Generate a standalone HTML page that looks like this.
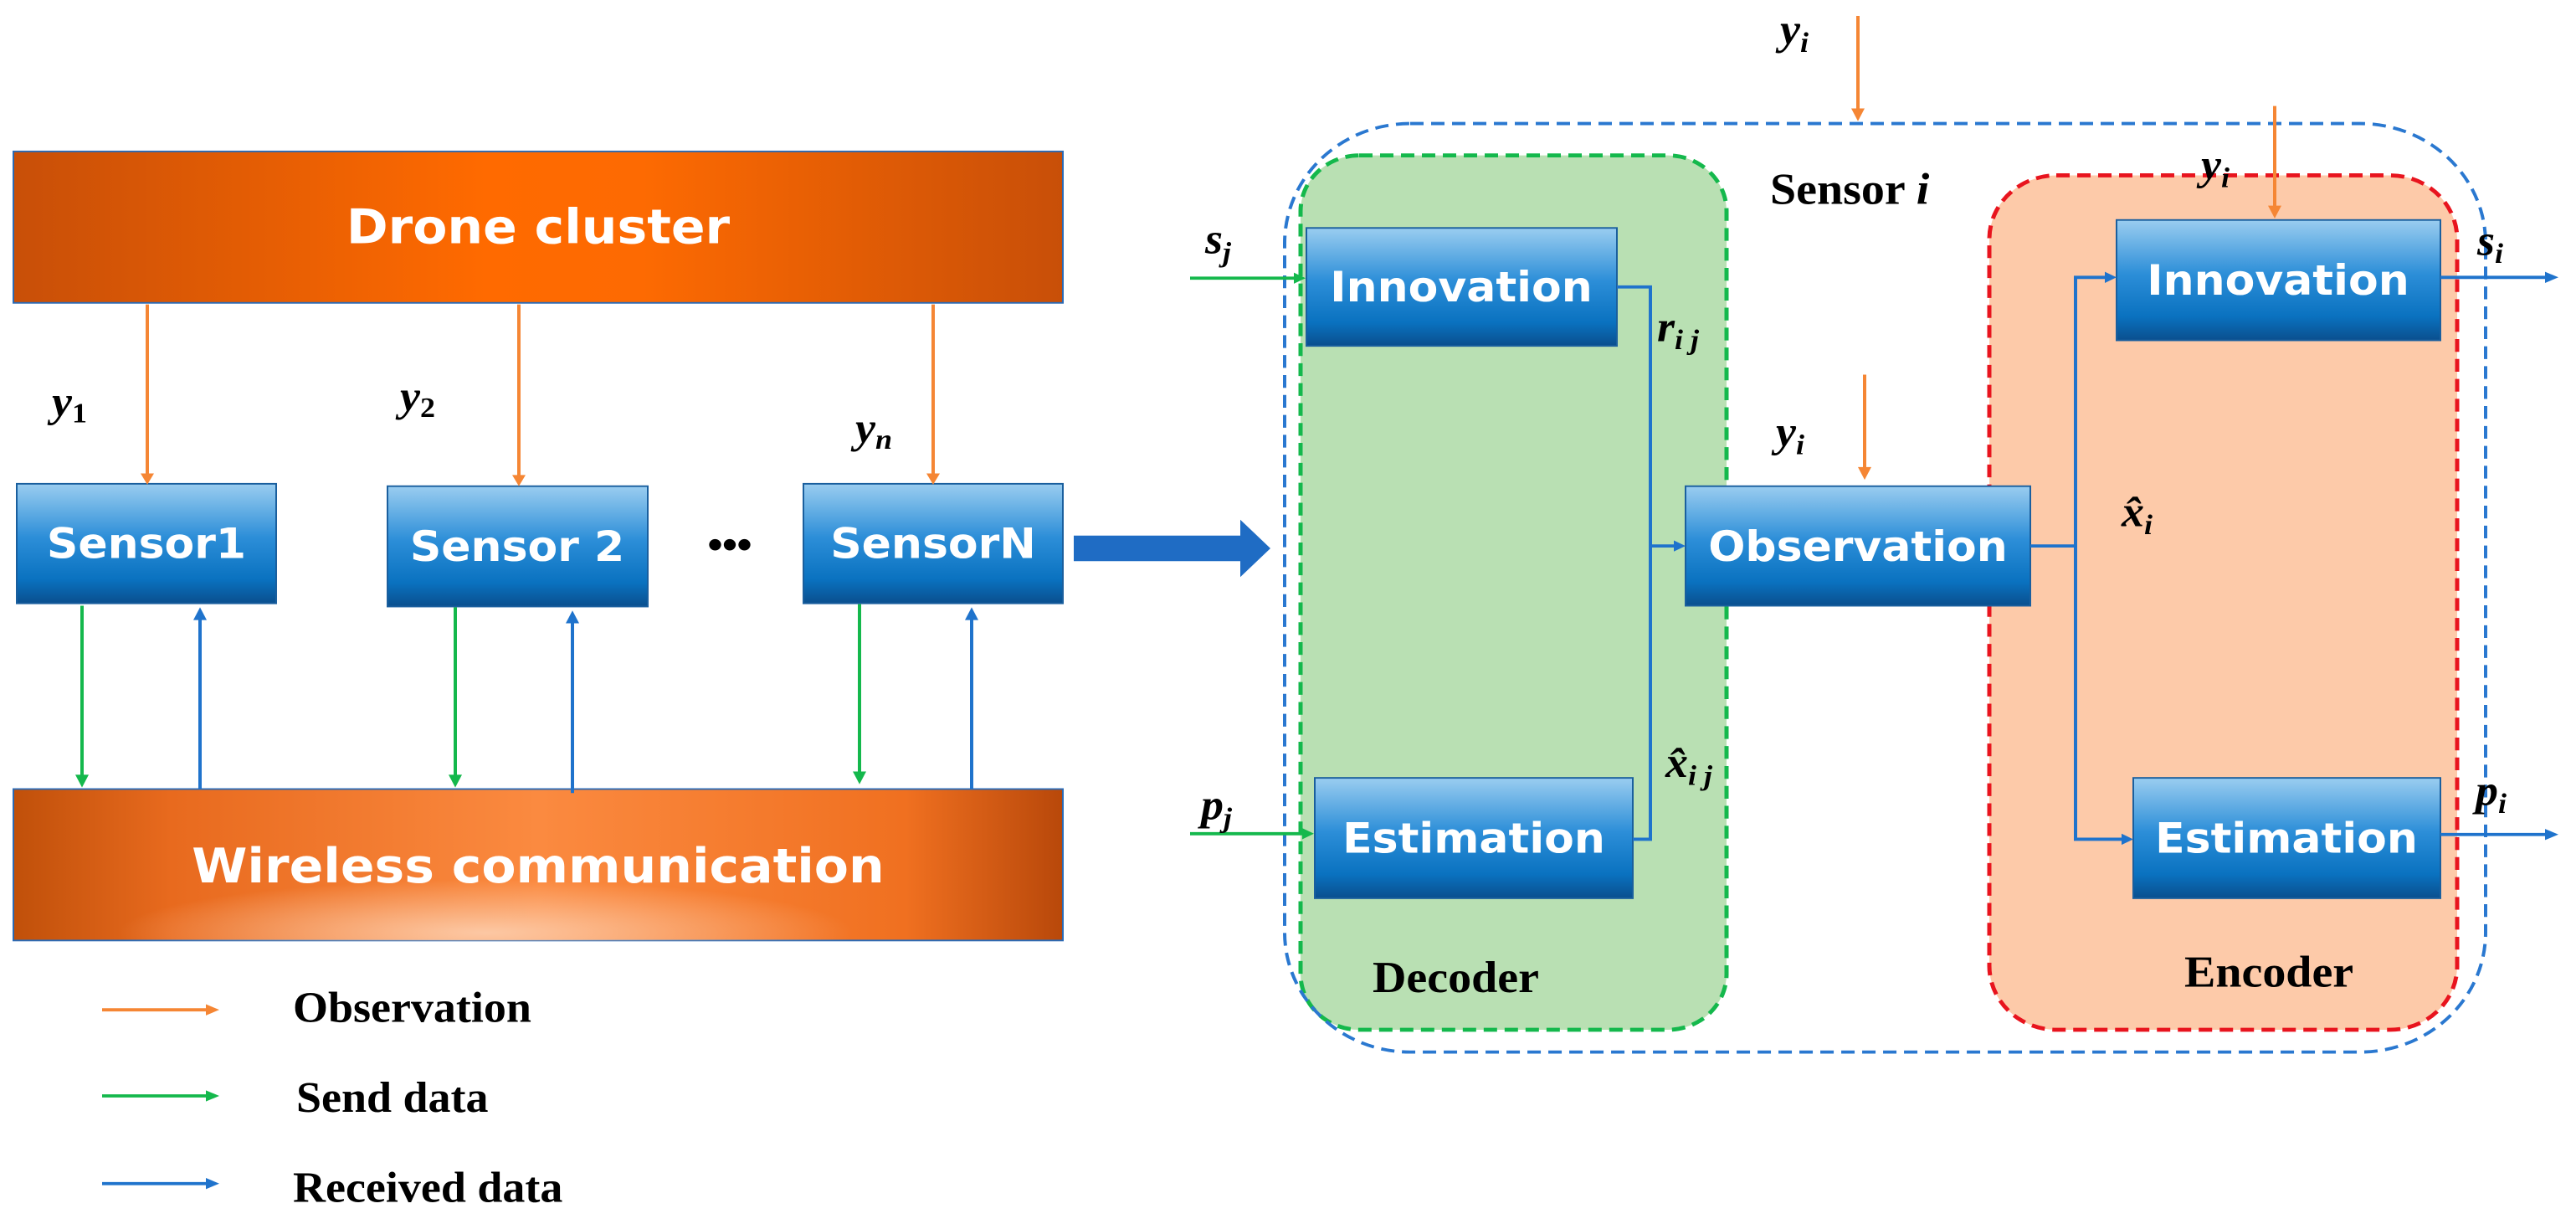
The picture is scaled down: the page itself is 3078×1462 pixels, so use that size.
<!DOCTYPE html>
<html><head><meta charset="utf-8"><style>html,body{margin:0;padding:0;background:#fff}svg{display:block}</style></head><body>
<svg width="3078" height="1462" viewBox="0 0 3078 1462" xmlns="http://www.w3.org/2000/svg">
<defs>
<linearGradient id="bx" x1="0" y1="0" x2="0" y2="1">
<stop offset="0" stop-color="#9acdf0"/><stop offset="0.45" stop-color="#2c8ed8"/><stop offset="0.8" stop-color="#0a72c0"/><stop offset="1" stop-color="#0a4f8e"/></linearGradient>
<linearGradient id="dr" x1="0" y1="0" x2="1" y2="0">
<stop offset="0" stop-color="#c84f08"/><stop offset="0.45" stop-color="#ff6a00"/><stop offset="0.6" stop-color="#fd6a02"/><stop offset="1" stop-color="#c84f08"/></linearGradient>
<linearGradient id="wlh" x1="0" y1="0" x2="1" y2="0">
<stop offset="0" stop-color="#c0500a"/><stop offset="0.15" stop-color="#e86a1e"/><stop offset="0.5" stop-color="#fb8a40"/><stop offset="0.85" stop-color="#f07020"/><stop offset="1" stop-color="#b8480a"/></linearGradient>
<radialGradient id="wl" cx="0.45" cy="0.95" r="0.35">
<stop offset="0" stop-color="#fcc8a4" stop-opacity="1"/><stop offset="1" stop-color="#fcc8a4" stop-opacity="0"/></radialGradient>
<style>
.bt{font-family:"DejaVu Sans","Liberation Sans",sans-serif;font-weight:bold;fill:#fff;font-size:52px;text-anchor:middle}
.sr{font-family:"Liberation Serif",serif;font-weight:bold;fill:#000}
.m{font-family:"Liberation Serif",serif;font-weight:bold;font-style:italic;fill:#000;font-size:54px}
.sub{font-family:"Liberation Serif",serif;font-style:italic;font-size:36px}
.o{stroke:#f58634;stroke-width:4;fill:none}
.g{stroke:#14b84c;stroke-width:4;fill:none}
.b{stroke:#1f73cc;stroke-width:4;fill:none}
</style>
</defs>
<g transform="scale(1,0.952)">
<rect x="16" y="190" width="1254" height="190" fill="url(#dr)" stroke="#2a6ab5" stroke-width="2"/>
<text x="643" y="305" class="bt" style="font-size:60px">Drone cluster</text>
<rect x="16" y="990" width="1254" height="190" fill="url(#wlh)" stroke="#2a6ab5" stroke-width="2"/>
<rect x="16" y="990" width="1254" height="190" fill="url(#wl)"/>
<text x="643" y="1107" class="bt" style="font-size:60px">Wireless communication</text>
<rect x="20" y="607" width="310" height="150" fill="url(#bx)" stroke="#1a5f9e" stroke-width="2"/>
<text x="175" y="700" class="bt">Sensor1</text>
<rect x="463" y="610" width="311" height="151" fill="url(#bx)" stroke="#1a5f9e" stroke-width="2"/>
<text x="618" y="704" class="bt">Sensor 2</text>
<rect x="960" y="607" width="310" height="150" fill="url(#bx)" stroke="#1a5f9e" stroke-width="2"/>
<text x="1115" y="700" class="bt">SensorN</text>
<text x="872" y="700" style="font-family:'Liberation Sans',sans-serif;font-size:50px;font-weight:bold;text-anchor:middle">•••</text>
<path class="o" d="M176 382V598"/><path d="M168 594L176 608L184 594z" fill="#f58634"/>
<path class="o" d="M620 382V600"/><path d="M612 596L620 610L628 596z" fill="#f58634"/>
<path class="o" d="M1115 382V598"/><path d="M1107 594L1115 608L1123 594z" fill="#f58634"/>
<text x="62" y="522" class="m">y<tspan class="sub" dy="8" style="font-style:normal">1</tspan></text>
<text x="478" y="515" class="m">y<tspan class="sub" dy="8" style="font-style:normal">2</tspan></text>
<text x="1022" y="555" class="m">y<tspan class="sub" dy="8">n</tspan></text>
<path class="g" d="M98 760V978"/><path d="M90 972L98 988L106 972z" fill="#14b84c"/>
<path class="g" d="M544 762V978"/><path d="M536 972L544 988L552 972z" fill="#14b84c"/>
<path class="g" d="M1027 758V974"/><path d="M1019 968L1027 984L1035 968z" fill="#14b84c"/>
<path class="b" d="M239 990V772"/><path d="M231 778L239 762L247 778z" fill="#1f73cc"/>
<path class="b" d="M684 995V776"/><path d="M676 782L684 766L692 782z" fill="#1f73cc"/>
<path class="b" d="M1161 990V772"/><path d="M1153 778L1161 762L1169 778z" fill="#1f73cc"/>
<path d="M1283 672H1482V652L1518 688L1482 724V704H1283z" fill="#1f6cc4"/>
<path class="o" d="M122 1267H250"/><path d="M246 1260L262 1267L246 1274z" fill="#f58634"/>
<path class="g" d="M122 1375H250"/><path d="M246 1368L262 1375L246 1382z" fill="#14b84c"/>
<path class="b" d="M122 1485H250"/><path d="M246 1478L262 1485L246 1492z" fill="#1f73cc"/>
<text x="350" y="1282" class="sr" style="font-size:54px">Observation</text>
<text x="354" y="1395" class="sr" style="font-size:54px">Send data</text>
<text x="350" y="1508" class="sr" style="font-size:54px">Received data</text>
<rect x="1554" y="195" width="509" height="1097" rx="70" fill="#b9e0b3" stroke="#14b84c" stroke-width="5" stroke-dasharray="16 9"/>
<rect x="2377" y="220" width="559" height="1072" rx="80" fill="#fdcaa9" stroke="#e8141e" stroke-width="5" stroke-dasharray="16 9"/>
<rect x="1535" y="155" width="1435" height="1165" rx="150" fill="none" stroke="#2a78d0" stroke-width="4" stroke-dasharray="16 9"/>
<path class="g" d="M1422 349H1550"/><path d="M1546 342L1560 349L1546 356z" fill="#14b84c"/>
<path class="g" d="M1422 1046H1560"/><path d="M1556 1039L1570 1046L1556 1053z" fill="#14b84c"/>
<text x="1440" y="318" class="m">s<tspan class="sub" dy="10">j</tspan></text>
<text x="1435" y="1028" class="m">p<tspan class="sub" dy="10">j</tspan></text>
<rect x="1561" y="286" width="371" height="148" fill="url(#bx)" stroke="#1a5f9e" stroke-width="2"/>
<text x="1746" y="378" class="bt">Innovation</text>
<rect x="1571" y="976" width="380" height="151" fill="url(#bx)" stroke="#1a5f9e" stroke-width="2"/>
<text x="1761" y="1070" class="bt">Estimation</text>
<rect x="2014" y="610" width="412" height="150" fill="url(#bx)" stroke="#1a5f9e" stroke-width="2"/>
<text x="2220" y="704" class="bt">Observation</text>
<rect x="2529" y="276" width="387" height="151" fill="url(#bx)" stroke="#1a5f9e" stroke-width="2"/>
<text x="2722" y="370" class="bt">Innovation</text>
<rect x="2549" y="976" width="367" height="151" fill="url(#bx)" stroke="#1a5f9e" stroke-width="2"/>
<text x="2732" y="1070" class="bt">Estimation</text>
<path class="b" d="M1932 360H1972V1053H1951"/>
<path class="b" d="M1972 685H2004"/><path d="M2000 678L2014 685L2000 692z" fill="#1f73cc"/>
<path class="b" d="M2426 685H2480V348H2519"/><path d="M2515 341L2529 348L2515 355z" fill="#1f73cc"/>
<path class="b" d="M2480 685V1053H2539"/><path d="M2535 1046L2549 1053L2535 1060z" fill="#1f73cc"/>
<path class="b" d="M2916 348H3045"/><path d="M3041 341L3057 348L3041 355z" fill="#1f73cc"/>
<path class="b" d="M2916 1047H3045"/><path d="M3041 1040L3057 1047L3041 1054z" fill="#1f73cc"/>
<path class="o" d="M2220 20V140"/><path d="M2212 136L2220 152L2228 136z" fill="#f58634"/>
<path class="o" d="M2718 133V262"/><path d="M2710 258L2718 274L2726 258z" fill="#f58634"/>
<path class="o" d="M2228 470V590"/><path d="M2220 586L2228 602L2236 586z" fill="#f58634"/>
<text x="2127" y="55" class="m">y<tspan class="sub" dy="10">i</tspan></text>
<text x="2630" y="225" class="m">y<tspan class="sub" dy="10">i</tspan></text>
<text x="2122" y="560" class="m">y<tspan class="sub" dy="10">i</tspan></text>
<text x="2115" y="256" class="sr" style="font-size:56px">Sensor <tspan font-style="italic">i</tspan></text>
<text x="1980" y="428" class="m">r<tspan class="sub" dy="10">i j</tspan></text>
<text x="1990" y="975" class="m">x̂<tspan class="sub" dy="10">i j</tspan></text>
<text x="2535" y="660" class="m">x̂<tspan class="sub" dy="10">i</tspan></text>
<text x="2960" y="320" class="m">s<tspan class="sub" dy="10">i</tspan></text>
<text x="2958" y="1010" class="m">p<tspan class="sub" dy="10">i</tspan></text>
<text x="1640" y="1245" class="sr" style="font-size:56px">Decoder</text>
<text x="2610" y="1238" class="sr" style="font-size:56px">Encoder</text>
</g>
</svg>
</body></html>
